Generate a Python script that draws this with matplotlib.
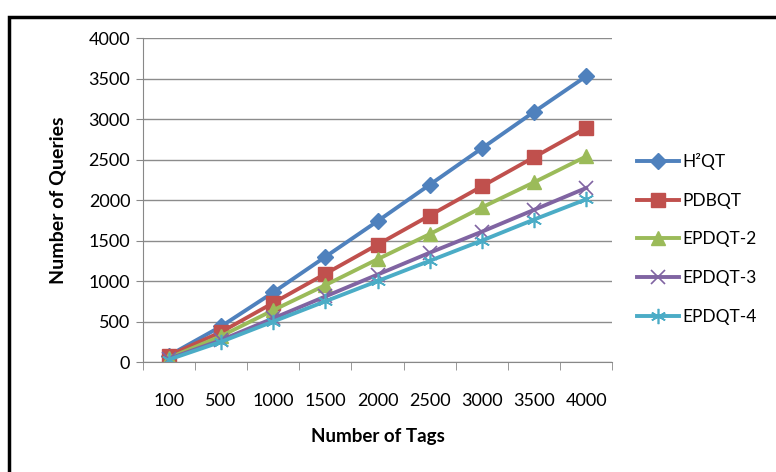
import matplotlib.pyplot as plt
from matplotlib.patches import Rectangle

plt.rcParams['font.family'] = ['Lato', 'DejaVu Sans']

tags = ['100', '500', '1000', '1500', '2000', '2500', '3000', '3500', '4000']
h2qt = [80, 440, 860, 1300, 1740, 2190, 2640, 3090, 3530]
pdbqt = [80, 370, 730, 1090, 1450, 1810, 2170, 2530, 2890]
epdqt2 = [50, 320, 640, 950, 1270, 1580, 1910, 2220, 2540]
epdqt3 = [40, 270, 540, 810, 1080, 1350, 1610, 1880, 2150]
epdqt4 = [30, 250, 500, 750, 1000, 1250, 1500, 1760, 2010]

series = [
    ('H²QT', h2qt, '#4F81BD', 'D', 8),
    ('PDBQT', pdbqt, '#C0504D', 's', 10),
    ('EPDQT-2', epdqt2, '#9BBB59', '^', 10),
    ('EPDQT-3', epdqt3, '#8064A2', 'x', 10),
    ('EPDQT-4', epdqt4, '#4BACC6', (6, 2, 0), 11),
]

fig = plt.figure(figsize=(7.76, 4.72), dpi=100)
ax = fig.add_axes([0.184, 0.233, 0.605, 0.686])

x = list(range(len(tags)))
for name, vals, col, mk, ms in series:
    ax.plot(x, vals, color=col, lw=2.8, marker=mk, markersize=ms,
            markeredgewidth=1.2 if mk in ('x', (6, 2, 0)) else 1,
            markeredgecolor=col, label=name)

ax.set_xlim(-0.5, 8.5)
ax.set_ylim(0, 4000)
ax.set_yticks(range(0, 4001, 500))
ax.set_xticks(x)
ax.set_xticklabels(tags)
ax.set_xticks([i - 0.5 for i in range(10)], minor=True)
ax.tick_params(axis='x', which='major', length=0, pad=22, labelsize=13)
ax.tick_params(axis='x', which='minor', length=6, color='#888888')
ax.tick_params(axis='y', length=5, color='#888888', labelsize=13, pad=4)

ax.grid(axis='y', color='#8c8c8c', lw=1)
ax.set_axisbelow(True)
for s in ['top', 'right']:
    ax.spines[s].set_visible(False)
ax.spines['left'].set_color('#888888')
ax.spines['bottom'].set_color('#888888')

ax.set_ylabel('Number of Queries', fontsize=14, fontweight='bold', labelpad=16)
ax.set_xlabel('Number of Tags', fontsize=13.5, fontweight='bold', labelpad=14)

ax.legend(loc='center left', bbox_to_anchor=(1.02, 0.38), frameon=False,
          fontsize=12.5, handlelength=2.4, handletextpad=0.2, labelspacing=1.3)

fig.patches.append(Rectangle((0.012, -0.1), 1.2, 1.063, transform=fig.transFigure,
                             fill=False, edgecolor='black', lw=2.5))

fig.savefig('out.png', dpi=100)
